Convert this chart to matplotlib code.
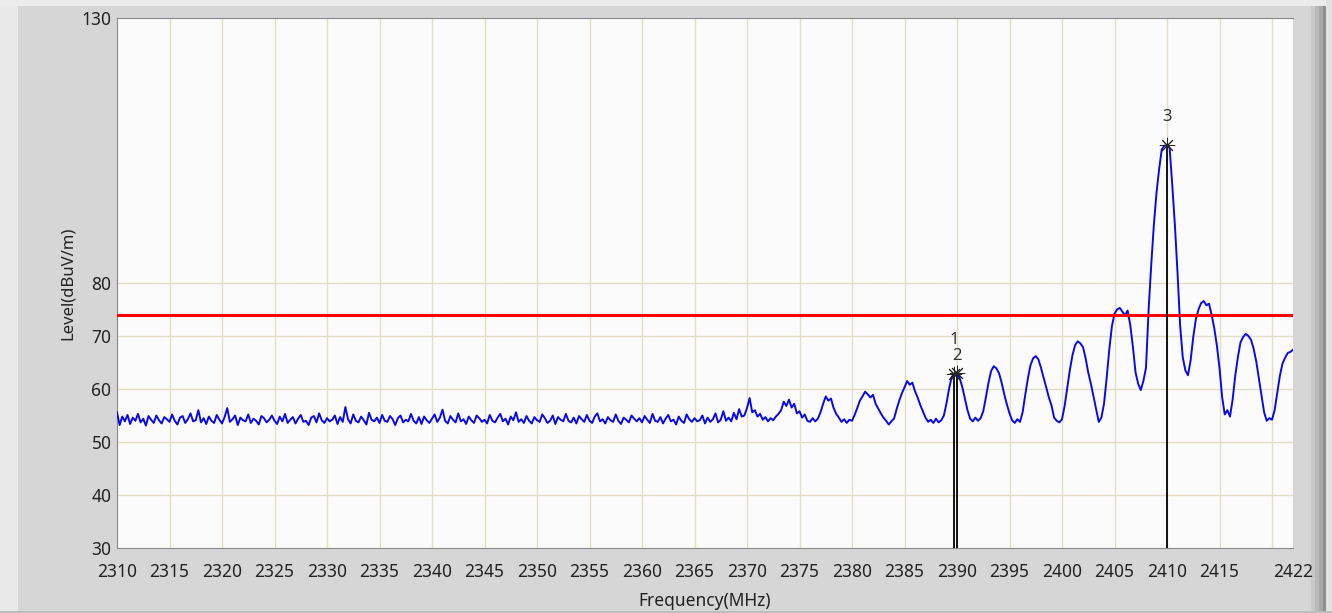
import numpy as np
import matplotlib
matplotlib.use("Agg")
import matplotlib.pyplot as plt
from matplotlib.patches import Rectangle

# sweep: 2310 .. 2422 MHz, 0.25 MHz steps (one row = 5 MHz)
f_start, f_stop, f_step = 2310.0, 2422.0, 0.25
level = [
    55.6, 53.2, 54.8, 53.9, 55.1, 53.4, 54.6, 54.0, 55.3, 53.7, 54.4, 53.1, 54.9, 54.2, 53.6, 55.0, 54.1, 53.5, 54.7, 54.3,
    53.8, 55.2, 54.0, 53.3, 54.6, 54.9, 53.6, 54.3, 55.4, 53.9, 54.1, 56.0, 53.7, 54.5, 53.4, 54.8, 54.0, 53.6, 55.1, 54.2,
    53.5, 54.7, 56.4, 53.8, 54.3, 55.0, 53.2, 54.6, 54.1, 53.9, 55.2, 53.6, 54.4, 54.0, 53.3, 54.9, 54.5, 53.7, 54.2, 55.0,
    54.0, 53.4, 54.8, 53.9, 55.3, 53.6, 54.2, 54.7, 53.5, 54.4, 55.1, 53.8, 54.0, 53.2, 54.6, 54.9, 53.7, 55.4, 54.1, 53.6,
    54.5, 53.9, 54.2, 55.0, 53.4, 54.7, 53.8, 56.6, 54.3, 53.5, 55.2, 54.0, 53.7, 54.8, 54.1, 53.3, 55.5, 54.2, 53.9, 54.6,
    53.6, 55.1, 54.0, 53.8, 54.9, 54.3, 53.2, 54.5, 55.0, 53.7, 54.2, 53.9, 55.3, 54.0, 53.5, 54.7, 53.4, 54.8, 54.1, 53.6,
    54.4, 55.2, 53.8, 54.6, 56.1, 54.0, 53.5, 54.9, 54.2, 53.7, 55.4, 53.9, 54.3, 53.4, 54.8, 54.1, 53.6, 55.0, 54.5, 53.8,
    54.2, 53.5, 55.1, 54.0, 53.7, 54.6, 55.3, 53.9, 54.4, 53.3, 54.8, 54.1, 55.6, 53.8, 54.3, 53.6, 54.9, 54.0, 53.5, 54.7,
    54.1, 53.8, 55.2, 54.5, 53.6, 54.0, 55.0, 53.4, 54.7, 54.2, 53.9, 55.3, 54.0, 53.7, 54.6, 53.5, 54.9, 54.3, 53.8, 55.1,
    54.0, 53.6, 54.8, 55.4, 53.9, 54.3, 53.5, 54.7, 54.1, 53.8, 55.2, 54.0, 53.4, 54.6, 54.2, 53.7, 55.0, 54.4, 53.9, 54.5,
    53.7, 54.9, 54.2, 53.6, 55.3, 54.0, 53.8, 54.7, 53.5, 54.4, 55.1, 53.9, 54.2, 53.3, 54.8, 54.0, 53.6, 55.2, 54.3, 53.8,
    54.5, 53.9, 54.1, 55.0, 53.5, 54.6, 53.8, 54.3, 55.4, 53.7, 54.2, 55.8, 54.0, 54.6, 53.9, 55.5, 54.3, 56.2, 54.8, 55.0,
    56.4, 58.3, 55.6, 56.0, 54.8, 55.3, 54.2, 54.7, 53.9, 54.5, 54.1, 54.8, 55.3, 56.0, 57.6, 56.8, 58.0, 56.5, 57.2, 55.4,
    55.8, 54.6, 55.2, 54.0, 53.8, 54.5, 53.9, 54.4, 55.6, 57.2, 58.6, 57.8, 58.2, 56.4, 55.3, 54.6, 53.8, 54.3, 53.6, 54.2,
    54.0, 55.1, 56.4, 57.8, 58.6, 59.5, 59.0, 58.4, 58.9, 57.2, 56.3, 55.4, 54.6, 54.0, 53.3, 53.9, 54.4, 56.2, 57.8, 59.2,
    60.3, 61.5, 60.8, 61.2, 59.6, 58.4, 57.0, 55.8, 54.6, 53.8, 54.2, 53.6, 54.4, 53.7, 54.1, 55.0, 57.3, 60.1, 62.3, 62.8,
    63.0, 62.1, 60.4, 58.2, 56.0, 54.4, 53.9, 54.6, 54.0, 54.5, 55.8, 58.4, 61.2, 63.4, 64.3, 63.9, 63.0, 61.2, 59.0, 57.1,
    55.4, 54.1, 53.6, 54.3, 53.8, 55.6, 58.9, 62.0, 64.5, 65.8, 66.2, 65.6, 64.0, 62.1, 60.3, 58.4, 56.9, 54.6, 54.0, 53.7,
    54.3, 56.8, 60.2, 63.6, 66.4, 68.3, 69.0, 68.6, 67.9, 65.8, 63.1, 61.0, 58.6, 56.2, 53.8, 54.6, 57.2, 62.0, 67.4, 71.8,
    74.2, 75.0, 75.3, 74.6, 73.9, 74.8, 72.1, 68.0, 63.2, 61.0, 59.8, 61.5, 64.0, 75.0, 83.5, 91.0, 97.0, 101.5, 105.2, 105.9,
    106.0, 105.5, 98.5, 91.0, 82.0, 72.0, 66.0, 63.5, 62.6, 65.4, 69.8, 73.2, 75.0, 76.2, 76.6, 75.8, 76.1, 74.0, 71.5, 68.2,
    64.0, 58.5, 55.2, 56.0, 54.8, 58.0, 62.5, 66.0, 68.8, 69.8, 70.4, 70.0, 69.3, 67.6, 65.2, 62.0, 58.8, 55.6, 54.0, 54.5,
    54.2, 56.0, 59.3, 62.5, 64.8, 65.9, 66.8, 67.0, 67.4,
]
freq = f_start + f_step * np.arange(len(level))

limit = 74.0
marker_names = ["1", "2", "3"]
marker_freq = [2389.7, 2390.0, 2410.0]
marker_level = [62.9, 63.0, 106.0]
marker_offset = [24, 12, 20]   # label height above marker, points

xtick_vals = [2310, 2315, 2320, 2325, 2330, 2335, 2340, 2345, 2350, 2355, 2360,
              2365, 2370, 2375, 2380, 2385, 2390, 2395, 2400, 2405, 2410, 2415, 2422]
xgrid_vals = list(range(2315, 2421, 5))
ytick_vals = [30, 40, 50, 60, 70, 80, 130]
ygrid_vals = [40, 50, 60, 70, 80]

plt.rcParams['font.family'] = ['Noto Sans', 'DejaVu Sans']

W, H = 1332, 613
fig = plt.figure(figsize=(W / 100, H / 100), dpi=100, facecolor='#d6d6d6')

def frame(x0, y0, x1, y1, color):
    # window frame pieces, given in pixels from the top-left corner
    fig.patches.append(Rectangle((x0 / W, 1 - y1 / H), (x1 - x0) / W, (y1 - y0) / H,
                                 transform=fig.transFigure, facecolor=color,
                                 edgecolor='none', zorder=-1))

frame(0, 0, 18, H, '#e9e9e9')
frame(0, 0, W, 6, '#ececec')
frame(1311, 6, 1315, H, '#c9c9c9')
frame(1315, 6, 1319, H, '#b9b9b9')
frame(1319, 6, 1323, H, '#a8a8a8')
frame(1323, 6, 1326, H, '#8e8e8e')
frame(1326, 0, W, H, '#e2e2e2')
frame(0, 611, W, H, '#bdbdbd')

ax = fig.add_axes([117 / W, 1 - 548 / H, (1293 - 117) / W, (548 - 18) / H])
ax.set_facecolor('#fbfbfb')

for x in xgrid_vals:
    ax.axvline(x, color='#e2dec6', lw=1, zorder=1)
for y in ygrid_vals:
    ax.axhline(y, color='#e2dec6', lw=1, zorder=1)

ax.plot(freq, level, color='#0a0ae6', lw=1.4, zorder=3)
ax.axhline(limit, color='#ff0000', lw=2.2, zorder=4)

ax.vlines(marker_freq, 30, marker_level, color='black', lw=1.3, zorder=5)
ax.plot(marker_freq, marker_level, ls='none', marker=(8, 2, 0), ms=11,
        mew=0.7, color='#222222', zorder=6)
for name, fx, lv, off in zip(marker_names, marker_freq, marker_level, marker_offset):
    ax.annotate(name, (fx, lv), xytext=(0, off), textcoords='offset points',
                ha='center', va='center', fontsize=12, color='#333333')

ax.set_xlim(2310, 2422)
ax.set_ylim(30, 130)
ax.set_xticks(xtick_vals)
ax.set_xticklabels([str(v) for v in xtick_vals])
ax.set_yticks(ytick_vals)
ax.set_yticklabels([str(v) for v in ytick_vals])
ax.tick_params(length=0, labelsize=12.5, colors='#222222')
ax.tick_params(axis='x', pad=11)
ax.tick_params(axis='y', pad=4)

for side in ['left', 'bottom', 'top']:
    ax.spines[side].set_color('#8a8a8a')
ax.spines['right'].set_visible(False)

ax.set_xlabel("Frequency(MHz)", fontsize=12.5, color='#222222', va='center')
ax.xaxis.set_label_coords(0.5, -53 / 530)
ax.set_ylabel("Level(dBuV/m)", fontsize=12, color='#222222', va='center')
ax.yaxis.set_label_coords(-49 / 1176, 0.5)

fig.savefig("out.png", dpi=100, facecolor=fig.get_facecolor())
